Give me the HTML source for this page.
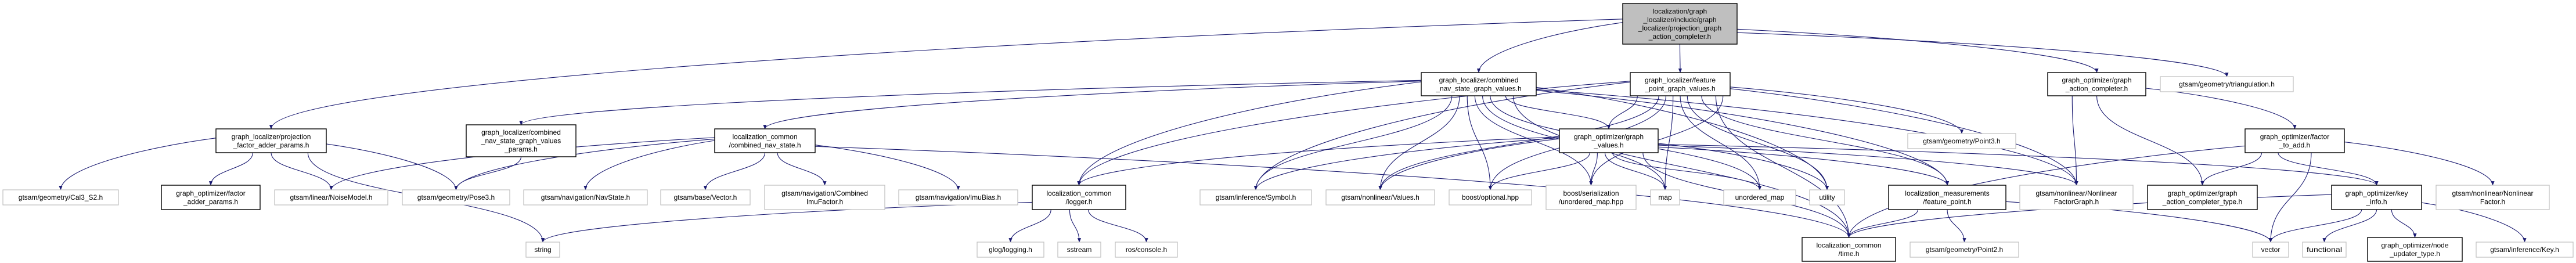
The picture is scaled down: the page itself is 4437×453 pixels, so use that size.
<!DOCTYPE html>
<html><head><meta charset="utf-8"><style>
html,body{margin:0;padding:0;background:#fff;width:4437px;height:453px;overflow:hidden}
svg{display:block}
text{font-family:"Liberation Sans",sans-serif;font-size:12px;fill:#000}
</style></head><body>
<svg id="g" width="4437" height="453" viewBox="0 0 4437 453" xmlns="http://www.w3.org/2000/svg">
<defs><marker id="ah" viewBox="0 0 10 10" refX="9" refY="5" markerWidth="7" markerHeight="7" orient="auto-start-reverse"><path d="M0,1 L10,5 L0,9 z" fill="#191970"/></marker></defs>
<g id="edges"></g><g id="nodes"></g>
</svg>
<script>
const nodes = [
 ["root",2795,6,2992,76,"r",["localization/graph","_localizer/include/graph","_localizer/projection_graph","_action_completer.h"]],
 ["cnsgv",2448,125,2646,165,"d",["graph_localizer/combined","_nav_state_graph_values.h"]],
 ["fpgv",2808,125,2980,165,"d",["graph_localizer/feature","_point_graph_values.h"]],
 ["gac",3527,125,3696,165,"d",["graph_optimizer/graph","_action_completer.h"]],
 ["tri",3721,132,3950,158,"e",["gtsam/geometry/triangulation.h"]],
 ["ppar",372,222,562,263,"d",["graph_localizer/projection","_factor_adder_params.h"]],
 ["cpar",803,215,992,270,"d",["graph_localizer/combined","_nav_state_graph_values","_params.h"]],
 ["cns",1231,222,1404,263,"d",["localization_common","/combined_nav_state.h"]],
 ["gv",2686,222,2856,263,"d",["graph_optimizer/graph","_values.h"]],
 ["p3",3286,230,3472,256,"e",["gtsam/geometry/Point3.h"]],
 ["fta",3867,222,4038,263,"d",["graph_optimizer/factor","_to_add.h"]],
 ["cal",5,327,204,353,"e",["gtsam/geometry/Cal3_S2.h"]],
 ["fap",278,319,448,361,"d",["graph_optimizer/factor","_adder_params.h"]],
 ["noise",473,327,668,353,"e",["gtsam/linear/NoiseModel.h"]],
 ["pose3",693,327,878,353,"e",["gtsam/geometry/Pose3.h"]],
 ["nav",902,327,1115,353,"e",["gtsam/navigation/NavState.h"]],
 ["vec",1138,327,1292,353,"e",["gtsam/base/Vector.h"]],
 ["cimu",1317,319,1524,361,"e",["gtsam/navigation/Combined","ImuFactor.h"]],
 ["bias",1548,327,1753,353,"e",["gtsam/navigation/ImuBias.h"]],
 ["log",1778,319,1939,361,"d",["localization_common","/logger.h"]],
 ["sym",2067,327,2259,353,"e",["gtsam/inference/Symbol.h"]],
 ["vals",2284,327,2471,353,"e",["gtsam/nonlinear/Values.h"]],
 ["opt",2496,327,2638,353,"e",["boost/optional.hpp"]],
 ["umh",2663,319,2818,361,"e",["boost/serialization","/unordered_map.hpp"]],
 ["map",2843,327,2893,353,"e",["map"]],
 ["um",2969,327,3093,353,"e",["unordered_map"]],
 ["util",3117,327,3177,353,"e",["utility"]],
 ["fp",3253,319,3455,361,"d",["localization_measurements","/feature_point.h"]],
 ["nfg",3479,319,3674,361,"e",["gtsam/nonlinear/Nonlinear","FactorGraph.h"]],
 ["gact",3699,319,3888,361,"d",["graph_optimizer/graph","_action_completer_type.h"]],
 ["ki",4016,319,4171,361,"d",["graph_optimizer/key","_info.h"]],
 ["nf",4196,319,4391,361,"e",["gtsam/nonlinear/Nonlinear","Factor.h"]],
 ["str",906,417,964,443,"e",["string"]],
 ["glog",1683,417,1798,443,"e",["glog/logging.h"]],
 ["ss",1822,417,1896,443,"e",["sstream"]],
 ["ros",1921,417,2028,443,"e",["ros/console.h"]],
 ["time",3104,409,3265,450,"d",["localization_common","/time.h"]],
 ["p2",3290,417,3477,443,"e",["gtsam/geometry/Point2.h"]],
 ["vector",3880,417,3942,443,"e",["vector"]],
 ["func",3966,417,4041,443,"e",["functional"]],
 ["nut",4078,409,4241,450,"d",["graph_optimizer/node","_updater_type.h"]],
 ["key",4265,417,4432,443,"e",["gtsam/inference/Key.h"]]
];
const edges = [
 ["root","ppar"],["root","cnsgv"],["root","fpgv"],["root","gac"],["root","tri"],
 ["cnsgv","cpar"],["cnsgv","cns"],["cnsgv","log"],["cnsgv","sym"],["cnsgv","vals"],["cnsgv","opt"],["cnsgv","umh"],["cnsgv","map"],["cnsgv","um"],["cnsgv","util"],["cnsgv","gv"],["cnsgv","time"],["cnsgv","nfg"],["cnsgv","fp"],
 ["fpgv","gv"],["fpgv","log"],["fpgv","sym"],["fpgv","vals"],["fpgv","opt"],["fpgv","map"],["fpgv","um"],["fpgv","util"],["fpgv","p3"],["fpgv","fp"],["fpgv","nfg"],["fpgv","time"],["fpgv","umh"],
 ["gv","log"],["gv","sym"],["gv","vals"],["gv","opt"],["gv","umh"],["gv","map"],["gv","um"],["gv","util"],["gv","ki"],["gv","nfg"],["gv","time"],["gv","fp"],
 ["ppar","cal"],["ppar","fap"],["ppar","noise"],["ppar","pose3"],["ppar","str"],
 ["cpar","pose3"],
 ["cns","noise"],["cns","pose3"],["cns","nav"],["cns","vec"],["cns","cimu"],["cns","bias"],["cns","time"],
 ["log","glog"],["log","ss"],["log","ros"],["log","str"],
 ["gac","nfg"],["gac","gact"],["gac","fta"],
 ["fta","gact"],["fta","ki"],["fta","nf"],["fta","vector"],["fta","time"],
 ["ki","time"],["ki","vector"],["ki","func"],["ki","nut"],["ki","key"],
 ["fp","time"],["fp","p2"],["fp","vector"]
];
const NS="http://www.w3.org/2000/svg";
const byId={}; nodes.forEach(n=>byId[n[0]]=n);
const eg=document.getElementById('edges'), ng=document.getElementById('nodes');
const outCount={}, outIdx={};
edges.forEach(e=>{outCount[e[0]]=(outCount[e[0]]||0)+1;});
edges.forEach(e=>{
 const s=byId[e[0]], t=byId[e[1]];
 outIdx[e[0]]=(outIdx[e[0]]||0)+1;
 const k=outIdx[e[0]], c=outCount[e[0]];
 const scx=(s[1]+s[3])/2;
 const tx=(t[1]+t[3])/2;
 let ty=t[2], d, sx, sy;
 if(t[2]<s[4]){
   sx=s[1]+(s[3]-s[1])*(k/(c+1)); sy=s[4];
   const ty2=(t[2]+t[4])/2, tx2 = tx<sx? t[3]:t[1];
   d=`M${sx},${sy} C${sx},${sy+40} ${tx2+(tx<sx?60:-60)},${ty2} ${tx2},${ty2}`;
 } else if(Math.abs(tx-scx) > 3*(ty-s[4])+(s[3]-s[1])/2){
   sx = tx<scx ? s[1] : s[3];
   sy = s[2]+(s[4]-s[2])*(0.3+0.5*(k/(c+1)));
   d=`M${sx},${sy} C${sx+(tx-sx)*0.5},${sy+(ty-sy)*0.2} ${tx},${ty-(ty-sy)*0.4} ${tx},${ty}`;
 } else {
   sx=s[1]+(s[3]-s[1])*(k/(c+1)); sy=s[4];
   const my=(sy+ty)/2;
   d=`M${sx},${sy} C${sx},${my} ${tx},${my} ${tx},${ty}`;
 }
 const p=document.createElementNS(NS,'path');
 p.setAttribute('d',d);p.setAttribute('fill','none');p.setAttribute('stroke','#191970');p.setAttribute('stroke-width','1.1');p.setAttribute('marker-end','url(#ah)');
 
 
 eg.appendChild(p);
});
nodes.forEach(n=>{
 const g=document.createElementNS(NS,'g');
 
 
 const r=document.createElementNS(NS,'rect');
 r.setAttribute('x',n[1]);r.setAttribute('y',n[2]);r.setAttribute('width',n[3]-n[1]);r.setAttribute('height',n[4]-n[2]);
 r.setAttribute('fill',n[5]==='r'?'#bfbfbf':'#fff');
 r.setAttribute('stroke',n[5]==='e'?'#bfbfbf':'#000');
 r.setAttribute('stroke-width',n[5]==='e'?'1.2':'1.4');
 g.appendChild(r);
 const L=n[6], cx=(n[1]+n[3])/2, cy=(n[2]+n[4])/2, lh=14.5;
 L.forEach((s,i)=>{
  const t=document.createElementNS(NS,'text');
  t.setAttribute('x',cx);t.setAttribute('y',cy+(i-(L.length-1)/2)*lh+4);
  t.setAttribute('text-anchor','middle');
  const w=(n[3]-n[1])-14, est=s.length*6.3;
  if(est>w) {t.setAttribute('textLength',w);t.setAttribute('lengthAdjust','spacingAndGlyphs');}
  t.textContent=s;
  
  
  g.appendChild(t);
 });
 ng.appendChild(g);
});
</script>
</body></html>
